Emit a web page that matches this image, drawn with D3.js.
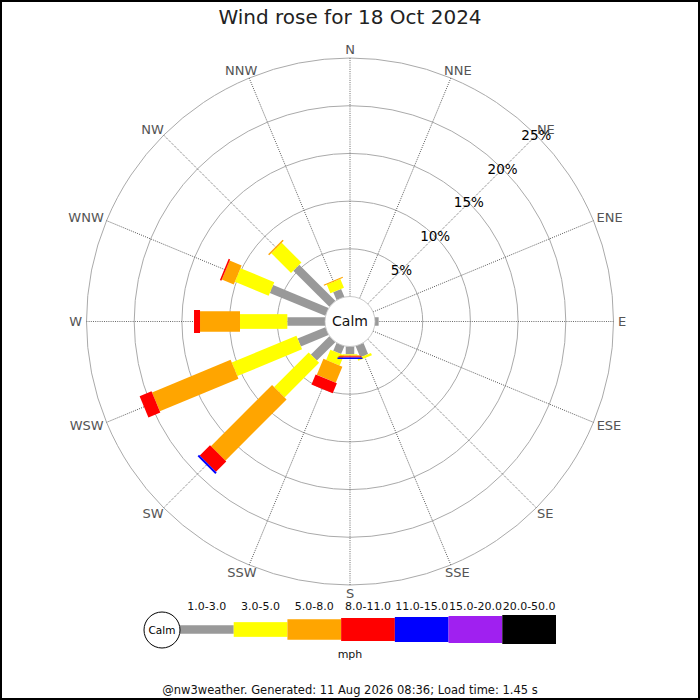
<!DOCTYPE html>
<html>
<head>
<meta charset="utf-8">
<script src="https://cdn.jsdelivr.net/npm/d3@7"></script>
<style>
  body { margin: 0; background: #fff; }
  svg { display: block; font-family: 'DejaVu Sans', sans-serif; }
</style>
</head>
<body>
<svg id="rose" width="700" height="700"></svg>
<script>
// Directions, clockwise from north
var directions = ['N', 'NNE', 'NE', 'ENE', 'E', 'ESE', 'SE', 'SSE',
  'S', 'SSW', 'SW', 'WSW', 'W', 'WNW', 'NW', 'NNW']

// Speed bins (mph) and their colours
var speedBins = ['1.0-3.0', '3.0-5.0', '5.0-8.0', '8.0-11.0', '11.0-15.0', '15.0-20.0', '20.0-50.0']
var binColors = ['#999999', '#ffff00', '#ffa500', '#ff0000', '#0000ff', '#a020f0', '#000000']

// Percentage of time per direction, one array per speed bin
var pct1to3 = [0, 0, 0, 0, 0.38, 0, 0, 1.26, 0.82, 0.89, 2.73, 3.14, 3.95, 6.29, 5.35, 0.89]
var pct3to5 = [0, 0, 0, 0, 0, 0, 0, 0.26, 0.10, 1.17, 5.13, 7.34, 4.96, 3.83, 2.93, 1.00]
var pct5to8 = [0, 0, 0, 0, 0, 0, 0, 0, 0.11, 1.82, 9.07, 8.92, 4.19, 1.36, 0.16, 0.11]
var pct8to11 = [0, 0, 0, 0, 0, 0, 0, 0, 0.12, 1.15, 1.52, 1.35, 0.63, 0.16, 0, 0]
var pct11to15 = [0, 0, 0, 0, 0, 0, 0, 0, 0.16, 0, 0.21, 0, 0, 0, 0, 0]
var pct15to20 = [0, 0, 0, 0, 0, 0, 0, 0, 0, 0, 0, 0, 0, 0, 0, 0]
var pct20to50 = [0, 0, 0, 0, 0, 0, 0, 0, 0, 0, 0, 0, 0, 0, 0, 0]

// Ring ticks
var ringTicks = [5, 10, 15, 20, 25]

var width = 700
var height = 700
var cx = 350
var cy = 321.5
var calmRadius = 25
var outerRadius = 263.5
var barWidths = [8.5, 14.7, 20.5, 23, 25, 27, 29]

var svg = d3.select('#rose')

function buildTable () {
  var series = [pct1to3, pct3to5, pct5to8, pct8to11, pct11to15, pct15to20, pct20to50]
  return directions.map(function (dir, i) {
    var row = { dir: dir }
    speedBins.forEach(function (b, j) { row[b] = series[j][i] })
    return row
  })
}

function createRScale () {
  return d3.scaleLinear()
    .domain([0, d3.max(ringTicks)])
    .range([calmRadius, outerRadius])
}

function createAngleScale () {
  return d3.scalePoint()
    .domain(directions)
    .range([0, 360 - 360 / directions.length])
}

function drawGrid (g, rScale, aScale) {
  g.selectAll('.ring')
    .data(ringTicks)
    .enter()
    .append('circle')
    .attr('class', 'ring')
    .attr('r', function (d) { return rScale(d) })
    .attr('fill', 'none')
    .attr('stroke', '#aaa')
    .attr('stroke-width', 1)

  g.selectAll('.spoke')
    .data(directions)
    .enter()
    .append('line')
    .attr('class', 'spoke')
    .attr('transform', function (d) { return 'rotate(' + aScale(d) + ')' })
    .attr('x1', 0)
    .attr('y1', -calmRadius)
    .attr('x2', 0)
    .attr('y2', -outerRadius)
    .attr('stroke', '#444')
    .attr('stroke-width', 0.8)
    .attr('stroke-dasharray', '1,1.2')

  // labels sit just outside the outer ring, pushed sideways by half their width
  g.selectAll('.dir-label')
    .data(directions)
    .enter()
    .append('text')
    .attr('class', 'dir-label')
    .attr('y', function (d) { return -272 * Math.cos(aScale(d) * Math.PI / 180) })
    .attr('text-anchor', 'middle')
    .attr('dy', '0.35em')
    .attr('font-size', 13)
    .attr('fill', '#555')
    .text(function (d) { return d })
    .attr('x', function (d) {
      var a = aScale(d) * Math.PI / 180
      var w = this.getComputedTextLength()
      return 272 * Math.sin(a) + Math.sin(a) * Math.max(0, w / 2 - 4)
    })
}

function drawBars (g, rScale, aScale, data) {
  var stack = d3.stack().keys(speedBins)
  var layers = stack(data)

  var layer = g.selectAll('.layer')
    .data(layers)
    .enter()
    .append('g')
    .attr('class', 'layer')
    .attr('fill', function (d, i) { return binColors[i] })

  layer.selectAll('rect')
    .data(function (d) {
      return d.filter(function (s) { return s[1] - s[0] > 0 })
        .map(function (s) { return { dir: s.data.dir, y0: s[0], y1: s[1], idx: d.index } })
    })
    .enter()
    .append('rect')
    .attr('transform', function (d) { return 'rotate(' + aScale(d.dir) + ')' })
    .attr('x', function (d) { return -barWidths[d.idx] / 2 })
    .attr('width', function (d) { return barWidths[d.idx] })
    .attr('y', function (d) { return -rScale(d.y1) })
    .attr('height', function (d) { return rScale(d.y1) - rScale(d.y0) })
}

function drawCalm (g) {
  g.append('circle')
    .attr('r', calmRadius)
    .attr('fill', '#fff')
    .attr('stroke', '#bbb')
    .attr('stroke-width', 0.8)
  g.append('text')
    .attr('text-anchor', 'middle')
    .attr('dy', '0.35em')
    .attr('font-size', 14)
    .attr('fill', '#111')
    .text('Calm')
}

function drawRingLabels (g, rScale) {
  var a = Math.PI / 4
  g.selectAll('.ring-label')
    .data(ringTicks)
    .enter()
    .append('text')
    .attr('class', 'ring-label')
    .attr('x', function (d) { return rScale(d) * Math.sin(a) })
    .attr('y', function (d) { return -rScale(d) * Math.cos(a) })
    .attr('text-anchor', 'middle')
    .attr('dy', '0.35em')
    .attr('font-size', 13.5)
    .attr('fill', '#000')
    .text(function (d) { return d + '%' })
}

function drawLegend () {
  var x = d3.scaleBand()
    .domain(speedBins)
    .range([180, 556])
  var ly = 629.5

  var legend = svg.append('g').attr('class', 'legend')

  legend.selectAll('rect')
    .data(speedBins)
    .enter()
    .append('rect')
    .attr('x', function (d) { return x(d) })
    .attr('width', x.bandwidth())
    .attr('y', function (d, i) { return ly - barWidths[i] / 2 })
    .attr('height', function (d, i) { return barWidths[i] })
    .attr('fill', function (d, i) { return binColors[i] })

  legend.selectAll('.bin-label')
    .data(speedBins)
    .enter()
    .append('text')
    .attr('class', 'bin-label')
    .attr('x', function (d) { return x(d) + x.bandwidth() / 2 })
    .attr('y', 610)
    .attr('text-anchor', 'middle')
    .attr('font-size', 11)
    .attr('fill', '#111')
    .text(function (d) { return d })

  legend.append('circle')
    .attr('cx', 162)
    .attr('cy', 630)
    .attr('r', 18)
    .attr('fill', '#fff')
    .attr('stroke', '#000')
    .attr('stroke-width', 1)
  legend.append('text')
    .attr('x', 162)
    .attr('y', 630)
    .attr('dy', '0.35em')
    .attr('text-anchor', 'middle')
    .attr('font-size', 10.5)
    .text('Calm')

  legend.append('text')
    .attr('x', 350)
    .attr('y', 658)
    .attr('text-anchor', 'middle')
    .attr('font-size', 11)
    .attr('fill', '#111')
    .text('mph')
}

function createGraph () {
  var data = buildTable()
  var rScale = createRScale()
  var aScale = createAngleScale()

  svg.append('rect')
    .attr('x', 1).attr('y', 1)
    .attr('width', width - 2).attr('height', height - 2)
    .attr('fill', '#fff')
    .attr('stroke', '#000')
    .attr('stroke-width', 2)

  svg.append('text')
    .attr('x', 350)
    .attr('y', 24)
    .attr('text-anchor', 'middle')
    .attr('font-size', 20)
    .attr('fill', '#222')
    .text('Wind rose for 18 Oct 2024')

  var g = svg.append('g')
    .attr('transform', 'translate(' + cx + ',' + cy + ')')

  drawGrid(g, rScale, aScale)
  drawBars(g, rScale, aScale, data)
  drawCalm(g)
  drawRingLabels(g, rScale)
  drawLegend()

  svg.append('text')
    .attr('x', 350)
    .attr('y', 694)
    .attr('text-anchor', 'middle')
    .attr('font-size', 11.5)
    .attr('fill', '#111')
    .text('@nw3weather. Generated: 11 Aug 2026 08:36; Load time: 1.45 s')
}

createGraph()
</script>
</body>
</html>
